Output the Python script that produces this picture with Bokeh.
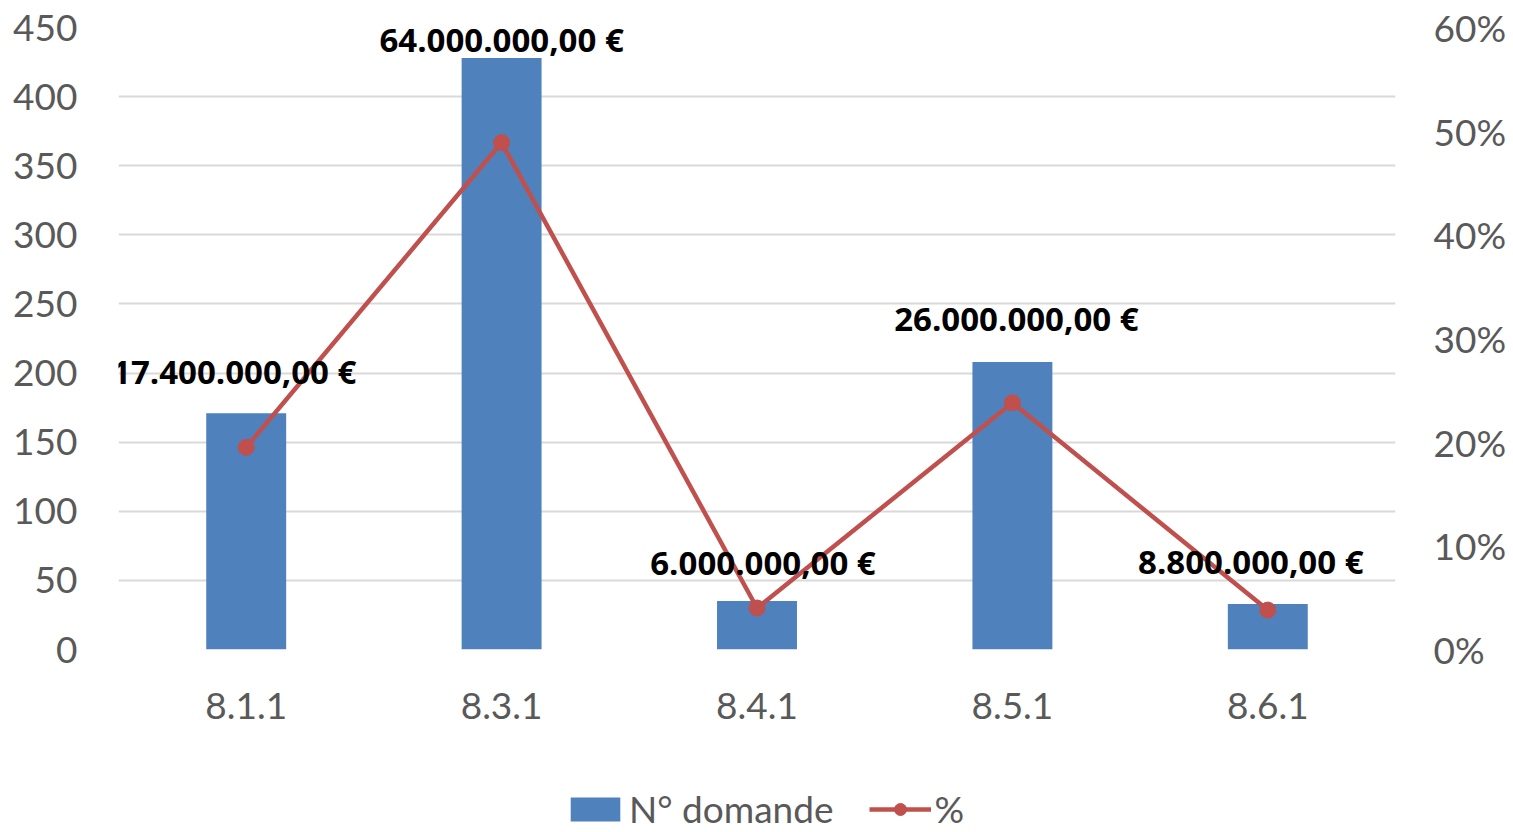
from bokeh.plotting import figure
from bokeh.layouts import column
from bokeh.core.properties import value
from bokeh.models import (ColumnDataSource, FactorRange, Range1d, LinearAxis, FixedTicker,
                          NumeralTickFormatter, Legend, LegendItem, LabelSet)
from bokeh.embed import file_html
from bokeh.resources import INLINE

# ---- data ----
categories = ["8.1.1", "8.3.1", "8.4.1", "8.5.1", "8.6.1"]
n_domande = [171, 428, 35, 208, 33]
percent = [0.195, 0.489, 0.040, 0.238, 0.038]
amount_labels = ["17.400.000,00 €", "64.000.000,00 €", "6.000.000,00 €",
                 "26.000.000,00 €", "8.800.000,00 €"]
left_ticks = [0, 50, 100, 150, 200, 250, 300, 350, 400, 450]
right_ticks = [0.0, 0.1, 0.2, 0.3, 0.4, 0.5, 0.6]

# ---- label placement (style, screen px) ----
label_dx = [-12, 0, 6, 4, -17]
label_dy = [42, 18, 39, 43, 42]

FONT = "Lato"
LABEL_FONT = "Open Sans"
GREY = "#595959"
BLUE = "#4f81bd"
RED = "#c0504d"

src = ColumnDataSource(dict(cat=categories, n=n_domande, pct=percent,
                            lab=amount_labels, dx=label_dx, dy=label_dy))

p = figure(x_range=FactorRange(*categories), y_range=Range1d(0, 450),
           width=1513, height=749, output_backend="svg", toolbar_location=None,
           min_border_left=118, min_border_right=118, min_border_top=27,
           min_border_bottom=100)
p.outline_line_color = None
p.extra_y_ranges = {"pct": Range1d(0, 0.6)}

bars = p.vbar(x="cat", top="n", width=0.313, source=src,
              fill_color=BLUE, line_color=None)
line = p.line(x="cat", y="pct", y_range_name="pct", source=src,
              line_color=RED, line_width=4.5)
pts = p.scatter(x="cat", y="pct", y_range_name="pct", source=src, size=16,
                fill_color=RED, line_color=RED)

labels = LabelSet(x="cat", y="n", text="lab", x_offset="dx", y_offset="dy",
                  source=src, text_font=value(LABEL_FONT), text_font_style="bold",
                  text_font_size="33px", text_color="black",
                  text_align="center", text_baseline="middle")
p.add_layout(labels)

# axes
p.yaxis.ticker = FixedTicker(ticks=left_ticks)
p.yaxis.axis_line_color = None
p.yaxis.major_tick_line_color = None
p.yaxis.minor_tick_line_color = None
p.yaxis.major_label_text_font = FONT
p.yaxis.major_label_text_font_size = "37px"
p.yaxis.major_label_text_color = GREY
p.yaxis.major_label_standoff = 35

rax = LinearAxis(y_range_name="pct", ticker=FixedTicker(ticks=right_ticks),
                 formatter=NumeralTickFormatter(format="0%"))
rax.axis_line_color = None
rax.major_tick_line_color = None
rax.minor_tick_line_color = None
rax.major_label_text_font = FONT
rax.major_label_text_font_size = "37px"
rax.major_label_text_color = GREY
rax.major_label_standoff = 32
p.add_layout(rax, "right")

p.xaxis.axis_line_color = None
p.xaxis.major_tick_line_color = None
p.xaxis.minor_tick_line_color = None
p.xaxis.major_label_text_font = FONT
p.xaxis.major_label_text_font_size = "37px"
p.xaxis.major_label_text_color = GREY
p.xaxis.major_label_standoff = 37

p.xgrid.grid_line_color = None
p.ygrid.ticker = FixedTicker(ticks=left_ticks)
p.ygrid.grid_line_color = "#d9d9d9"
p.ygrid.grid_line_width = 2

# ---- legend strip below the chart (glyphs drawn off-frame, legend only) ----
lf = figure(width=1513, height=83, output_backend="svg", toolbar_location=None,
            x_axis_type=None, y_axis_type=None, min_border=0,
            x_range=FactorRange(*categories), y_range=Range1d(1000, 1001))
lf.outline_line_color = None
lf.xgrid.grid_line_color = None
lf.ygrid.grid_line_color = None
lb = lf.vbar(x="cat", top="n", width=0.313, source=src, fill_color=BLUE, line_color=None)
ll = lf.line(x="cat", y="n", source=src, line_color=RED, line_width=4.5)
lp = lf.scatter(x="cat", y="n", source=src, size=16, fill_color=RED, line_color=RED)

legend = Legend(items=[LegendItem(label="N° domande", renderers=[lb]),
                       LegendItem(label="%", renderers=[ll, lp])],
                location=(446, 1), orientation="horizontal",
                border_line_color=None, background_fill_alpha=0,
                padding=0, margin=0, spacing=36, label_standoff=3,
                glyph_width=62, glyph_height=30,
                label_text_font=FONT, label_text_font_size="37px",
                label_text_color=GREY)
lf.add_layout(legend)

layout = column(p, lf, spacing=0)
open("out.html", "w").write(file_html(layout, INLINE))
